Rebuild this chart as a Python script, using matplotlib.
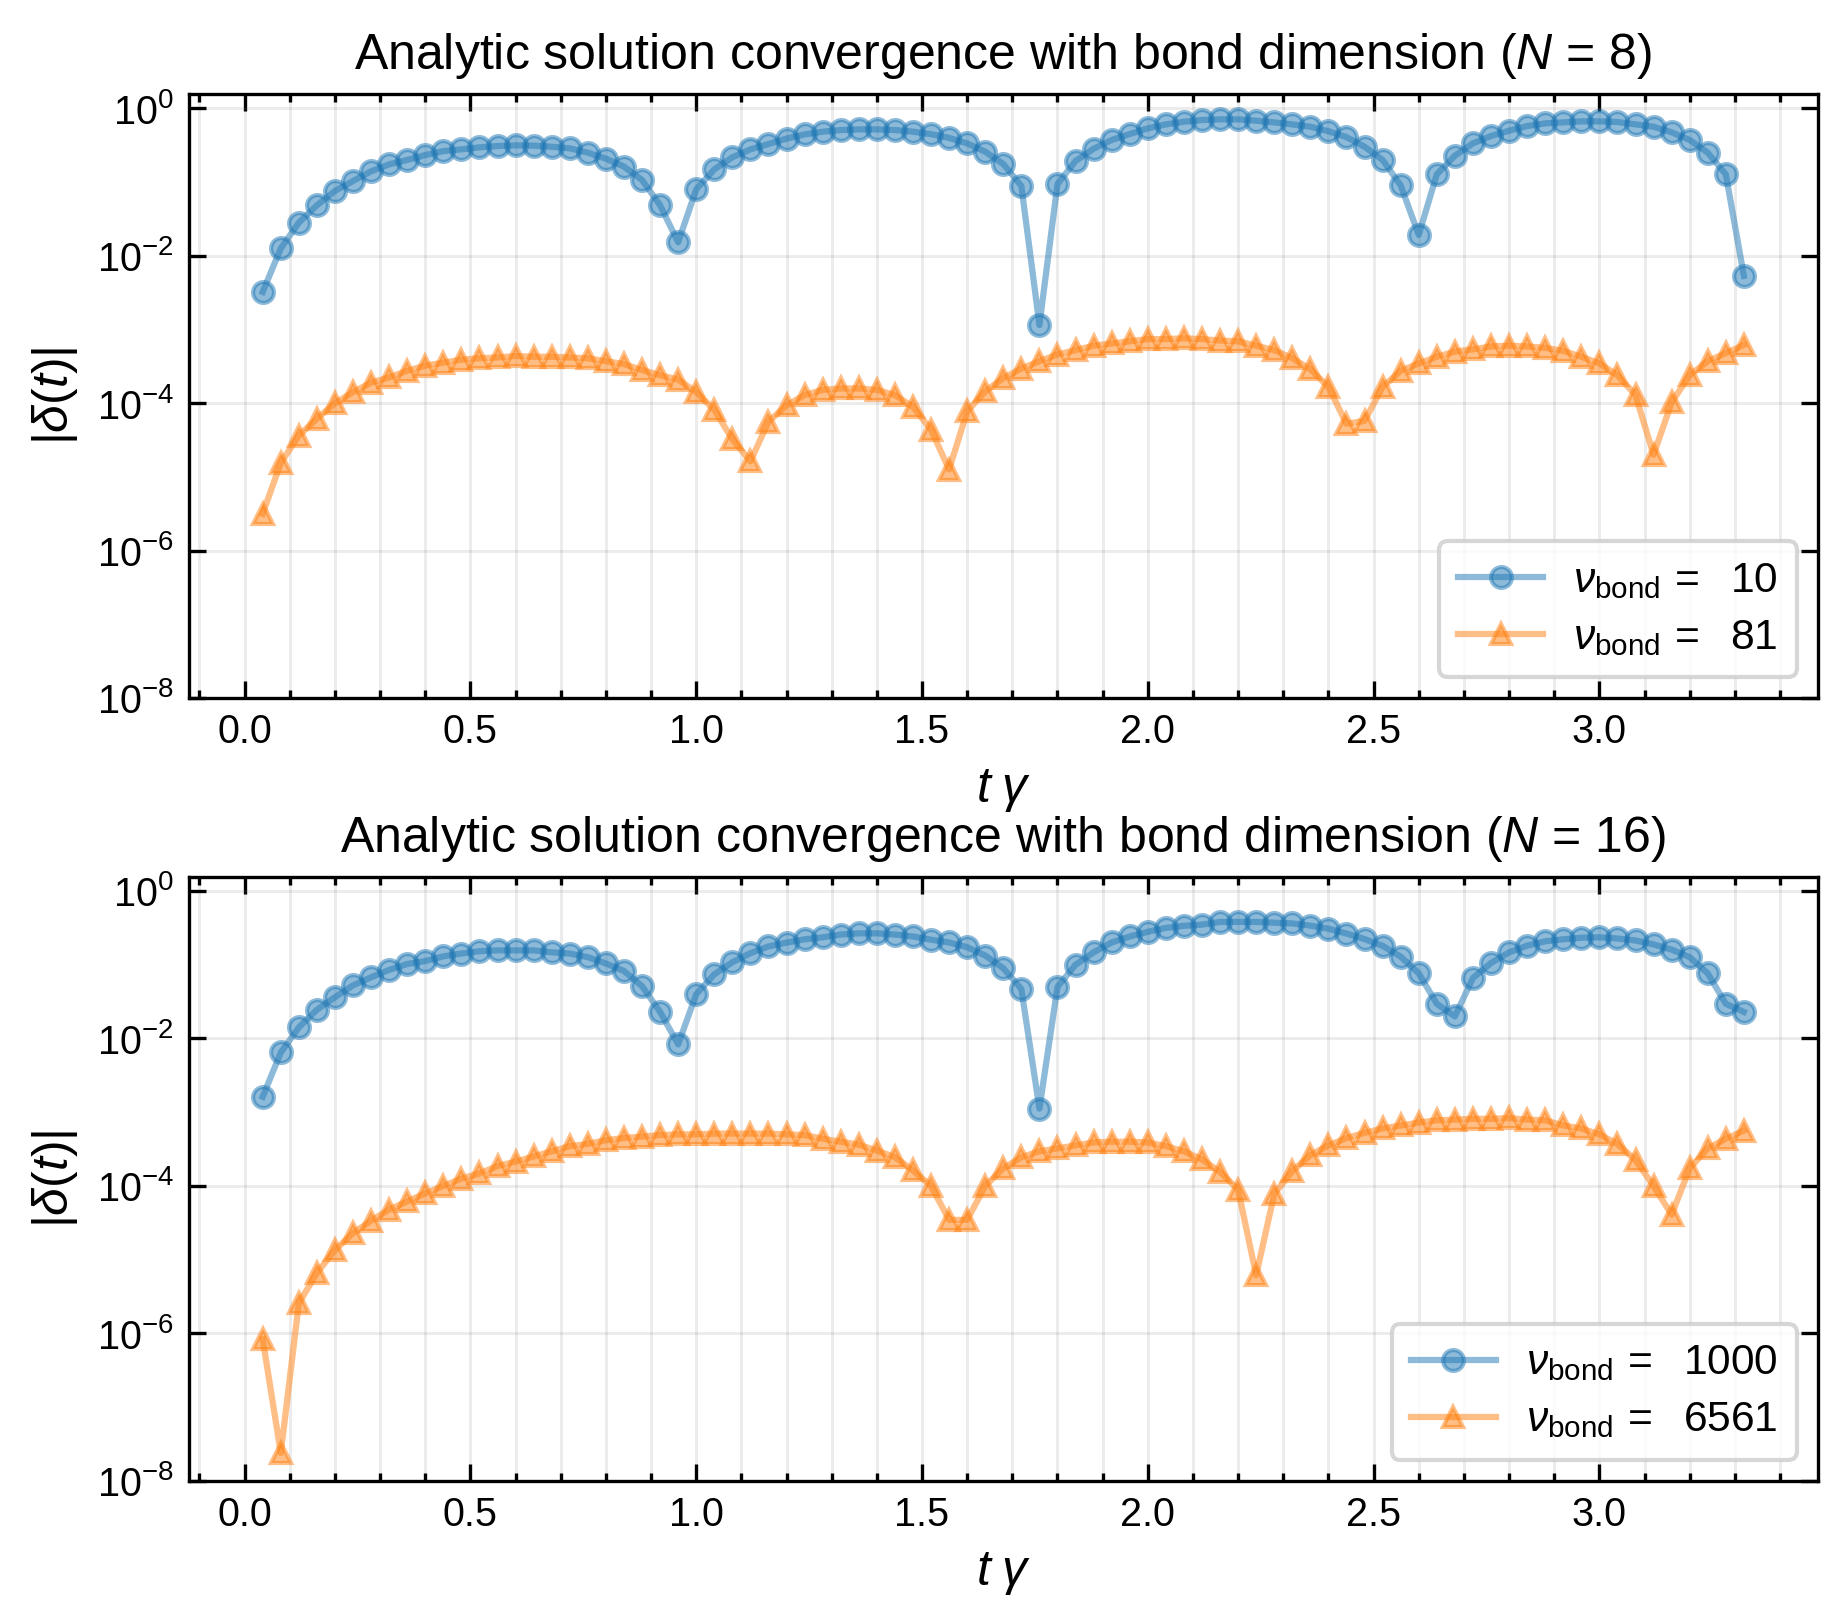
import numpy as np
import matplotlib
matplotlib.use('Agg')
import matplotlib.pyplot as plt
from matplotlib.ticker import NullLocator, MultipleLocator

plt.rcParams['font.family'] = ['Liberation Sans', 'DejaVu Sans']
plt.rcParams['mathtext.fontset'] = 'custom'
plt.rcParams['mathtext.rm'] = 'Liberation Sans'
plt.rcParams['mathtext.it'] = 'Liberation Sans:italic'
plt.rcParams['mathtext.bf'] = 'Liberation Sans:bold'
plt.rcParams['axes.linewidth'] = 0.8

# time grid (t*gamma)
t = [0.04, 0.08, 0.12, 0.16, 0.20, 0.24, 0.28, 0.32, 0.36, 0.40,
     0.44, 0.48, 0.52, 0.56, 0.60, 0.64, 0.68, 0.72, 0.76, 0.80,
     0.84, 0.88, 0.92, 0.96, 1.00, 1.04, 1.08, 1.12, 1.16, 1.20,
     1.24, 1.28, 1.32, 1.36, 1.40, 1.44, 1.48, 1.52, 1.56, 1.60,
     1.64, 1.68, 1.72, 1.76, 1.80, 1.84, 1.88, 1.92, 1.96, 2.00,
     2.04, 2.08, 2.12, 2.16, 2.20, 2.24, 2.28, 2.32, 2.36, 2.40,
     2.44, 2.48, 2.52, 2.56, 2.60, 2.64, 2.68, 2.72, 2.76, 2.80,
     2.84, 2.88, 2.92, 2.96, 3.00, 3.04, 3.08, 3.12, 3.16, 3.20,
     3.24, 3.28, 3.32]

# log10 |delta(t)|
log_n8_chi10 = [
    -2.49, -1.90, -1.55, -1.315, -1.12, -0.985, -0.854, -0.759, -0.70, -0.633,
    -0.579, -0.556, -0.529, -0.511, -0.502, -0.506, -0.52, -0.542, -0.601, -0.682,
    -0.79, -0.972, -1.315, -1.817, -1.098, -0.827, -0.664, -0.556, -0.484, -0.41,
    -0.353, -0.316, -0.294, -0.285, -0.285, -0.294, -0.316, -0.35, -0.40, -0.475,
    -0.588, -0.755, -1.053, -2.94, -1.026, -0.714, -0.547, -0.429, -0.348, -0.271,
    -0.217, -0.181, -0.158, -0.149, -0.149, -0.167, -0.19, -0.217, -0.249, -0.31,
    -0.39, -0.52, -0.70, -1.045, -1.717, -0.895, -0.642, -0.475, -0.375, -0.303,
    -0.24, -0.203, -0.19, -0.176, -0.176, -0.185, -0.217, -0.249, -0.325, -0.429,
    -0.601, -0.895, -2.273]

log_n8_chi81 = [
    -5.50, -4.81, -4.44, -4.21, -4.00, -3.85, -3.72, -3.65, -3.56, -3.49,
    -3.45, -3.41, -3.39, -3.38, -3.36, -3.37, -3.37, -3.38, -3.39, -3.43,
    -3.47, -3.55, -3.62, -3.68, -3.85, -4.09, -4.49, -4.79, -4.25, -4.03,
    -3.89, -3.82, -3.80, -3.80, -3.82, -3.89, -4.05, -4.36, -4.90, -4.11,
    -3.84, -3.66, -3.53, -3.43, -3.34, -3.28, -3.22, -3.19, -3.16, -3.13,
    -3.13, -3.12, -3.13, -3.15, -3.16, -3.22, -3.28, -3.39, -3.54, -3.78,
    -4.28, -4.24, -3.78, -3.56, -3.46, -3.37, -3.30, -3.27, -3.23, -3.22,
    -3.23, -3.25, -3.29, -3.37, -3.46, -3.62, -3.89, -4.70, -3.99, -3.62,
    -3.43, -3.32, -3.21]

log_n16_chi1000 = [
    -2.79, -2.19, -1.85, -1.61, -1.44, -1.28, -1.17, -1.07, -0.99, -0.95,
    -0.886, -0.848, -0.816, -0.805, -0.805, -0.805, -0.832, -0.848, -0.897, -0.983,
    -1.085, -1.29, -1.64, -2.08, -1.40, -1.13, -0.966, -0.843, -0.752, -0.70,
    -0.655, -0.628, -0.59, -0.574, -0.574, -0.59, -0.617, -0.66, -0.698, -0.762,
    -0.875, -1.047, -1.33, -2.95, -1.30, -1.00, -0.832, -0.698, -0.617, -0.553,
    -0.50, -0.472, -0.456, -0.419, -0.419, -0.419, -0.43, -0.44, -0.47, -0.51,
    -0.577, -0.652, -0.744, -0.89, -1.117, -1.53, -1.70, -1.18, -0.977, -0.832,
    -0.741, -0.682, -0.655, -0.634, -0.628, -0.644, -0.671, -0.725, -0.795, -0.897,
    -1.117, -1.53, -1.64]

log_n16_chi6561 = [
    -6.08, -7.62, -5.59, -5.18, -4.87, -4.64, -4.47, -4.32, -4.21, -4.10,
    -4.00, -3.90, -3.83, -3.73, -3.67, -3.60, -3.53, -3.46, -3.43, -3.38,
    -3.35, -3.33, -3.31, -3.30, -3.30, -3.29, -3.29, -3.29, -3.29, -3.30,
    -3.31, -3.36, -3.40, -3.44, -3.52, -3.61, -3.79, -4.00, -4.46, -4.46,
    -4.00, -3.76, -3.61, -3.53, -3.49, -3.45, -3.41, -3.40, -3.40, -3.41,
    -3.46, -3.53, -3.64, -3.81, -4.05, -5.21, -4.11, -3.80, -3.58, -3.45,
    -3.35, -3.28, -3.22, -3.18, -3.14, -3.11, -3.10, -3.09, -3.09, -3.08,
    -3.10, -3.11, -3.18, -3.22, -3.30, -3.43, -3.65, -4.00, -4.39, -3.76,
    -3.49, -3.36, -3.25]

panels = [
    (8, [10, 81], [log_n8_chi10, log_n8_chi81]),
    (16, [1000, 6561], [log_n16_chi1000, log_n16_chi6561]),
]

fig = plt.figure(figsize=(1846 / 300, 1624 / 300), dpi=300)
ax_top = fig.add_axes([0.1022, 0.5702, 0.8826, 0.3717])
ax_bot = fig.add_axes([0.1022, 0.0881, 0.8826, 0.3719])

markers = ['o', '^']
colors = ['tab:blue', 'tab:orange']

for ax, (N, chis, logs) in zip([ax_top, ax_bot], panels):
    for chi, lg, mk, c in zip(chis, logs, markers, colors):
        ax.plot(t, 10.0 ** np.array(lg), marker=mk, color=c, alpha=0.5,
                lw=1.5, ms=5, label=r'$\nu_{\rm bond}\,=$  ' + str(chi))

    ax.set_yscale('log')
    ax.set_ylim(1e-8, 1.55)
    ax.set_yticks([1e-8, 1e-6, 1e-4, 1e-2, 1e0])
    ax.yaxis.set_minor_locator(NullLocator())
    ax.xaxis.set_major_locator(MultipleLocator(0.5))
    ax.xaxis.set_minor_locator(MultipleLocator(0.1))

    ax.tick_params(which='both', direction='in', top=True, right=True,
                   labelsize=9.5, width=0.8)
    ax.tick_params(which='major', length=4)
    ax.tick_params(which='minor', length=2)

    ax.grid(True, which='both', color='0.5', alpha=0.15, lw=0.7)

    ax.set_title('Analytic solution convergence with bond dimension ($N$ = %d)' % N,
                 fontsize=12)
    ax.set_xlabel(r'$t\;\gamma$', fontsize=12)
    ax.set_ylabel(r'$|\delta(t)|$', fontsize=12)
    ax.legend(loc='lower right', fontsize=10.2, framealpha=0.8,
              handlelength=2.0, handletextpad=0.7, borderpad=0.45,
              labelspacing=0.4)

fig.savefig('out.png', dpi=300)
